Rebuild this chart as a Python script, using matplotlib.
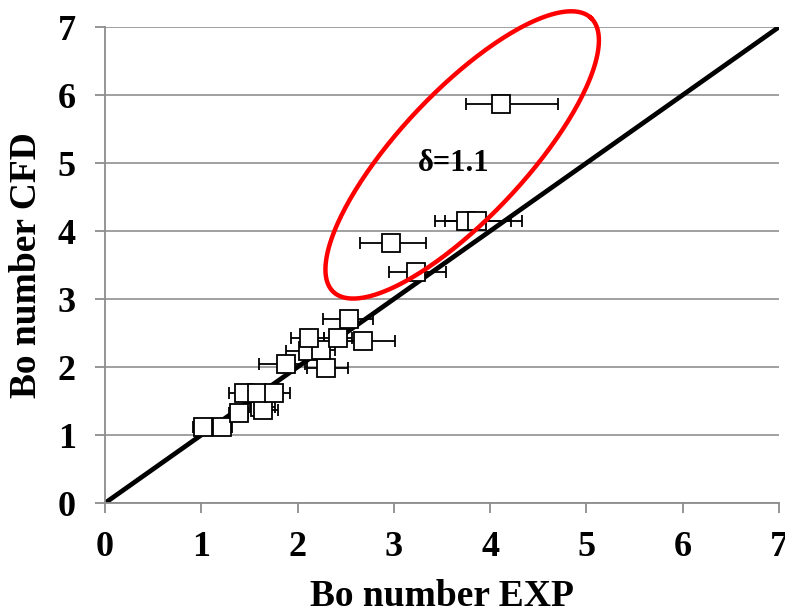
import numpy as np
import matplotlib
matplotlib.use('Agg')
import matplotlib.pyplot as plt

# Bo number: experiment (x) vs CFD (y), with asymmetric x error bars
bo_exp = [1.02, 1.22, 1.39, 1.61, 1.64, 1.44, 1.58, 1.76, 1.88, 2.30, 2.11, 2.24,
          2.12, 2.42, 2.68, 2.53, 3.23, 2.97, 3.75, 3.86, 4.11]
bo_cfd = [1.12, 1.12, 1.33, 1.41, 1.37, 1.62, 1.62, 1.62, 2.04, 1.98, 2.23, 2.25,
          2.42, 2.42, 2.38, 2.70, 3.40, 3.82, 4.15, 4.15, 5.87]
err_lo = [0.11, 0.10, 0.10, 0.10, 0.10, 0.15, 0.10, 0.10, 0.28, 0.20, 0.23, 0.15,
          0.19, 0.15, 0.20, 0.27, 0.28, 0.32, 0.32, 0.33, 0.36]
err_hi = [0.10, 0.10, 0.10, 0.16, 0.16, 0.10, 0.10, 0.16, 0.20, 0.22, 0.20, 0.15,
          0.15, 0.15, 0.33, 0.25, 0.31, 0.36, 0.47, 0.47, 0.60]

ticks = [0, 1, 2, 3, 4, 5, 6, 7]

fnt = {'family': 'Liberation Serif', 'weight': 'bold'}

fig = plt.figure(figsize=(7.85, 6.16), dpi=100)
ax = fig.add_axes([0.1338, 0.1834, 0.8584, 0.7726])

# y = x reference line
ax.plot([0, 7], [0, 7], color='black', lw=3.4, zorder=2)

ax.errorbar(bo_exp, bo_cfd, xerr=[err_lo, err_hi], fmt='s', ms=13,
            mfc='white', mec='black', mew=1.3, ecolor='black', elinewidth=1.3,
            capsize=4.5, capthick=1.3, zorder=3)

# red ellipse around the outliers (centre and half-axes in data units)
t = np.linspace(0, 2 * np.pi, 300)
cx, cy = 3.71, 5.12
u = (1.338, 2.015)
v = (-0.477, 0.635)
ax.plot(cx + u[0] * np.cos(t) + v[0] * np.sin(t),
        cy + u[1] * np.cos(t) + v[1] * np.sin(t),
        color='red', lw=3.2, clip_on=False, zorder=4)
ax.text(3.62, 5.0, 'δ=1.1', ha='center', va='center', fontsize=22, **fnt)

ax.set_xlim(0, 7)
ax.set_ylim(0, 7)
ax.set_xticks(ticks)
ax.set_yticks(ticks)
ax.set_xticklabels([str(v) for v in ticks], fontsize=26, **fnt)
ax.set_yticklabels([str(v) for v in ticks], fontsize=26, **fnt)
ax.tick_params(axis='both', length=7, width=1.3, color='#8c8c8c')
ax.tick_params(axis='x', pad=13)
ax.tick_params(axis='y', pad=14)
ax.yaxis.grid(True, color='#999999', lw=1.3)
ax.set_axisbelow(True)
for s in ['top', 'right']:
    ax.spines[s].set_visible(False)
for s in ['left', 'bottom']:
    ax.spines[s].set_color('#8c8c8c')
    ax.spines[s].set_linewidth(1.3)

ax.set_xlabel('Bo number EXP', fontsize=27, labelpad=11, **fnt)
ax.set_ylabel('Bo number CFD', fontsize=27, labelpad=10, **fnt)

plt.savefig('out.png', dpi=100)
plt.close()
